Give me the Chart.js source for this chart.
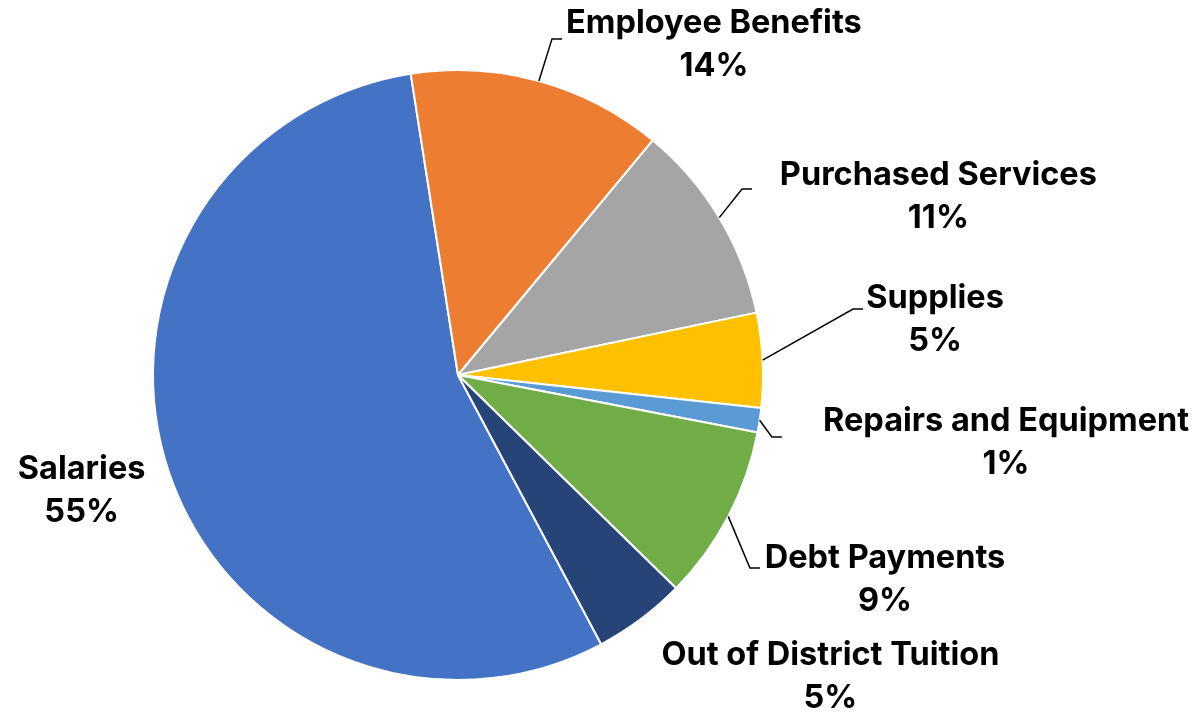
<!DOCTYPE html>
<html lang="en">
<head>
  <meta charset="UTF-8" />
  <title>Expenditures by Category</title>
  <script src="https://cdn.jsdelivr.net/npm/chart.js"></script>
  <style>
    html, body {
      margin: 0;
      padding: 0;
      background: #fff;
    }

    .wrap {
      width: 1203px;
      height: 713px;
    }
  </style>
</head>
<body>
  <div class="wrap">
    <canvas id="budgetPie"></canvas>
  </div>

  <script>
    // share of total spending, in percent
    const categories = [
      'Salaries',
      'Employee Benefits',
      'Purchased Services',
      'Supplies',
      'Repairs and Equipment',
      'Debt Payments',
      'Out of District Tuition'
    ];
    const shares = [55.3, 13.5, 10.7, 5.0, 1.3, 9.3, 4.9];

    const sliceColors = ['#4472C4', '#ED7D31', '#A5A5A5', '#FFC000', '#5B9BD5', '#70AD47', '#264478'];

    // label block centre, in units of the pie radius from its centre
    const labelSpots = [
      [-1.234, 0.380],
      [0.839, -1.082],
      [1.575, -0.585],
      [1.564, -0.180],
      [1.797, 0.221],
      [1.400, 0.670],
      [1.221, 0.990]
    ];
    // where the leader line ends (null = no leader)
    const leaderEnds = [
      null,
      [0.341, -1.102],
      [0.964, -0.610],
      [1.328, -0.216],
      [1.062, 0.203],
      [0.990, 0.633],
      null
    ];

    const FONT = 'bold 32.5px Inter, "Open Sans", sans-serif';
    const LINE_GAP = 43;

    const outsideLabels = {
      id: 'outsideLabels',
      afterDatasetsDraw(chart) {
        const ctx = chart.ctx;
        const arcs = chart.getDatasetMeta(0).data;
        const total = shares.reduce((a, b) => a + b, 0);
        ctx.save();

        arcs.forEach((arc, i) => {
          const cx = arc.x, cy = arc.y, r = arc.outerRadius;
          const mid = (arc.startAngle + arc.endAngle) / 2;

          // leader line: edge of slice -> elbow -> short horizontal
          const end = leaderEnds[i];
          if (end) {
            const ex = cx + end[0] * r, ey = cy + end[1] * r;
            ctx.beginPath();
            ctx.moveTo(cx + Math.cos(mid) * r, cy + Math.sin(mid) * r);
            ctx.lineTo(ex - 10, ey);
            ctx.lineTo(ex, ey);
            ctx.strokeStyle = '#000';
            ctx.lineWidth = 1.5;
            ctx.stroke();
          }

          const lx = cx + labelSpots[i][0] * r;
          const ly = cy + labelSpots[i][1] * r;
          const pct = Math.round(shares[i] / total * 100) + '%';
          ctx.font = FONT;
          ctx.fillStyle = '#000';
          ctx.textAlign = 'center';
          ctx.textBaseline = 'middle';
          ctx.fillText(categories[i], lx, ly - LINE_GAP / 2);
          ctx.fillText(pct, lx, ly + LINE_GAP / 2);
        });

        ctx.restore();
      }
    };

    new Chart(document.getElementById('budgetPie'), {
      type: 'pie',
      data: {
        labels: categories,
        datasets: [{
          data: shares,
          backgroundColor: sliceColors,
          borderColor: '#fff',
          borderWidth: 2
        }]
      },
      options: {
        responsive: true,
        maintainAspectRatio: false,
        animation: false,
        rotation: 152,
        layout: {
          padding: { left: 152, right: 439, top: 69, bottom: 32 }
        },
        plugins: {
          legend: { display: false },
          tooltip: { enabled: false }
        }
      },
      plugins: [outsideLabels]
    });
  </script>
</body>
</html>
